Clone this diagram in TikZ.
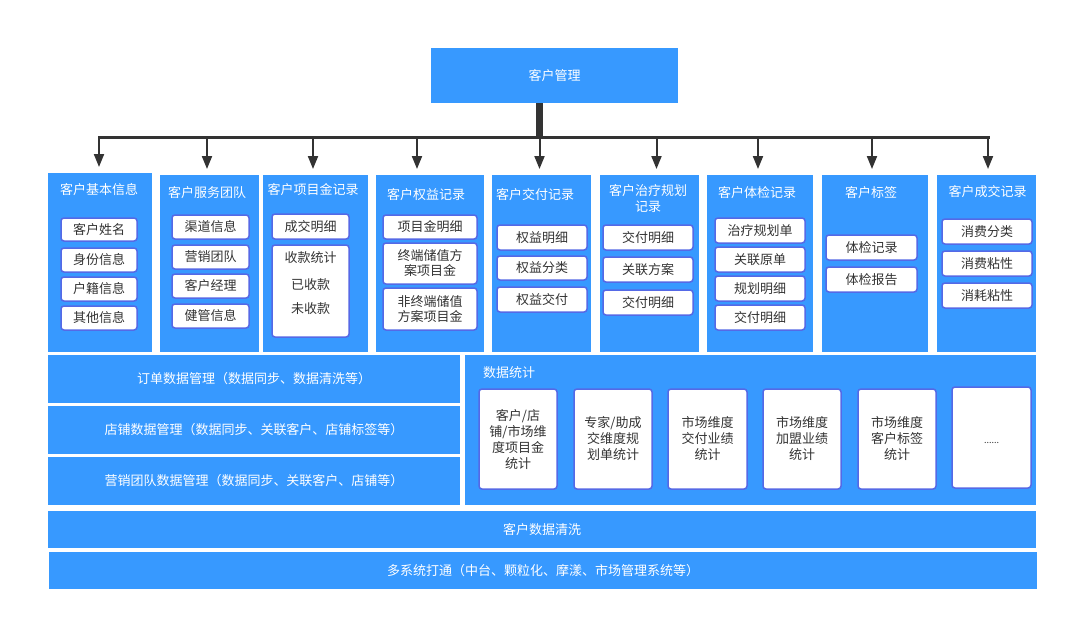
\documentclass[tikz,border=0pt]{standalone}
\usepackage{fontspec}
\setmainfont{Noto Sans CJK SC}
\usetikzlibrary{arrows.meta}
\definecolor{bblue}{RGB}{55,153,255}
\definecolor{bord}{RGB}{85,105,230}
\definecolor{ink}{RGB}{51,51,51}
\newcommand\fs{\fontsize{13}{15}\selectfont}
\newcommand\bx[7]{%
 \pgfmathsetmacro\bw{#5-#3}\pgfmathsetmacro\bh{#6-#4}%
 \pgfmathsetmacro\bcx{(#3+#5)/2}\pgfmathsetmacro\bcy{(#4+#6)/2}%
 \node[#1, minimum width=\bw pt, minimum height=\bh pt] (#2) at (\bcx,\bcy) {#7};}
\tikzset{
 blk/.style={fill=bblue, draw=none, inner sep=0pt, outer sep=0pt, text=white, font=\fs, align=center},
 wbox/.style={fill=white, draw=bord, line width=1.5pt, rounded corners=3pt, inner sep=0pt, outer sep=0pt, text=ink, align=center, font=\fs},
 ttl/.style={text=white, font=\fs, inner sep=0pt, align=center},
 itxt/.style={text=ink, font=\fs, inner sep=0pt, align=center},
 arr/.style={draw=ink, line width=2pt, -{Triangle[width=10pt,length=13pt]}, shorten >=6pt},
}
\begin{document}
\begin{tikzpicture}[x=1pt,y=-1pt]
\fill[white] (0,0) rectangle (1069,621);
\useasboundingbox (0,0) rectangle (1069,621);

% top
\bx{blk}{top}{431}{48}{678}{103}{客户管理}

% columns
\bx{blk}{c1}{48}{173}{152}{352}{}
\bx{blk}{c2}{160}{175}{259}{352}{}
\bx{blk}{c3}{263}{175}{368}{352}{}
\bx{blk}{c4}{376}{175}{484}{352}{}
\bx{blk}{c5}{492}{175}{591}{352}{}
\bx{blk}{c6}{600}{175}{699}{352}{}
\bx{blk}{c7}{707}{175}{813}{352}{}
\bx{blk}{c8}{822}{175}{928}{352}{}
\bx{blk}{c9}{937}{175}{1036}{352}{}

% connectors
\coordinate (hub) at (539.5,137);
\coordinate (b1) at (99,137);
\coordinate (b2) at (207,137);
\coordinate (b3) at (313,137);
\coordinate (b4) at (417,137);
\coordinate (b5) at (539.5,137);
\coordinate (b6) at (656.5,137);
\coordinate (b7) at (758,137);
\coordinate (b8) at (872,137);
\coordinate (b9) at (988,137);
\draw[ink, line width=7pt] (hub |- top.south) -- ([yshift=-1.5pt]hub);
\draw[ink, line width=3pt, line cap=rect] (b1) -- (b9);
\foreach \i in {1,...,9}{\draw[arr] (b\i) -- (b\i |- c\i.north);}

% titles
\node[ttl] (t1) at (99,190) {客户基本信息};
\node[ttl] (t2) at (207,193) {客户服务团队};
\node[ttl] (t3) at (313,190) {客户项目金记录};
\node[ttl] (t4) at (426,195) {客户权益记录};
\node[ttl] (t5) at (535,195) {客户交付记录};
\node[ttl, font=\fontsize{13}{15.5}\selectfont] (t6) at (648,198.5) {客户治疗规划\\记录};
\node[ttl] (t7) at (757,193) {客户体检记录};
\node[ttl] (t8) at (871,193) {客户标签};
\node[ttl] (t9) at (987.5,192) {客户成交记录};

% col1
\bx{wbox}{a11}{61}{218}{137}{241}{客户姓名}
\bx{wbox}{a12}{61}{248}{137}{272}{身份信息}
\bx{wbox}{a13}{61}{277}{137}{301}{户籍信息}
\bx{wbox}{a14}{61}{306}{137}{330}{其他信息}
% col2
\bx{wbox}{a21}{172}{215}{249}{239}{渠道信息}
\bx{wbox}{a22}{172}{245}{249}{269}{营销团队}
\bx{wbox}{a23}{172}{274}{249}{298}{客户经理}
\bx{wbox}{a24}{172}{304}{249}{328}{健管信息}
% col3
\bx{wbox}{a31}{272}{214}{349}{239}{成交明细}
\bx{wbox}{a32}{272}{245}{349}{337}{}
\node[itxt] (a32t) at (310.5,283.5) {收款统计\\[12pt]已收款\\[9pt]未收款};
% col4
\bx{wbox}{a41}{383}{215}{477}{239}{项目金明细}
\bx{wbox}{a42}{383}{243}{477}{284}{终端储值方\\案项目金}
\bx{wbox}{a43}{383}{288}{477}{330}{非终端储值\\方案项目金}
% col5
\bx{wbox}{a51}{497}{225}{587}{250}{权益明细}
\bx{wbox}{a52}{497}{256}{587}{280}{权益分类}
\bx{wbox}{a53}{497}{287}{587}{312}{权益交付}
% col6
\bx{wbox}{a61}{603}{225}{693}{250}{交付明细}
\bx{wbox}{a62}{603}{257}{693}{282}{关联方案}
\bx{wbox}{a63}{603}{290}{693}{315}{交付明细}
% col7
\bx{wbox}{a71}{715}{218}{805}{243}{治疗规划单}
\bx{wbox}{a72}{715}{247}{805}{272}{关联原单}
\bx{wbox}{a73}{715}{276}{805}{301}{规划明细}
\bx{wbox}{a74}{715}{305}{805}{330}{交付明细}
% col8
\bx{wbox}{a81}{826}{235}{917}{260}{体检记录}
\bx{wbox}{a82}{826}{267}{917}{292}{体检报告}
% col9
\bx{wbox}{a91}{942}{219}{1032}{244}{消费分类}
\bx{wbox}{a92}{942}{251}{1032}{276}{消费粘性}
\bx{wbox}{a93}{942}{283}{1032}{308}{消耗粘性}

% middle left bars
\bx{blk}{m1}{48}{355}{460}{403}{订单数据管理（数据同步、数据清洗等）}
\bx{blk}{m2}{48}{406}{460}{454}{店铺数据管理（数据同步、关联客户、店铺标签等）}
\bx{blk}{m3}{48}{457}{460}{505}{营销团队数据管理（数据同步、关联客户、店铺等）}

% statistics panel
\bx{blk}{st}{465}{355}{1036}{505}{}
\node[ttl, anchor=west] (stt) at (483,373) {数据统计};
\tikzset{sbox/.style={wbox, font=\fontsize{13}{16}\selectfont}}
\bx{sbox}{s1}{479}{389}{557}{489}{客户/店\\铺/市场维\\度项目金\\统计}
\bx{sbox}{s2}{574}{389}{652}{489}{专家/助成\\交维度规\\划单统计}
\bx{sbox}{s3}{668}{389}{747}{489}{市场维度\\交付业绩\\统计}
\bx{sbox}{s4}{763}{389}{841}{489}{市场维度\\加盟业绩\\统计}
\bx{sbox}{s5}{858}{389}{936}{489}{市场维度\\客户标签\\统计}
\bx{wbox}{s6}{952}{387}{1031}{488}{}
\node[itxt, anchor=base, font=\fontsize{9}{10}\selectfont] (s6t) at (991.5,443) {......};

% bottom bars
\bx{blk}{d1}{48}{511}{1036}{548}{客户数据清洗}
\bx{blk}{d2}{49}{552}{1037}{589}{多系统打通（中台、颗粒化、摩漾、市场管理系统等）}
\end{tikzpicture}
\end{document}
